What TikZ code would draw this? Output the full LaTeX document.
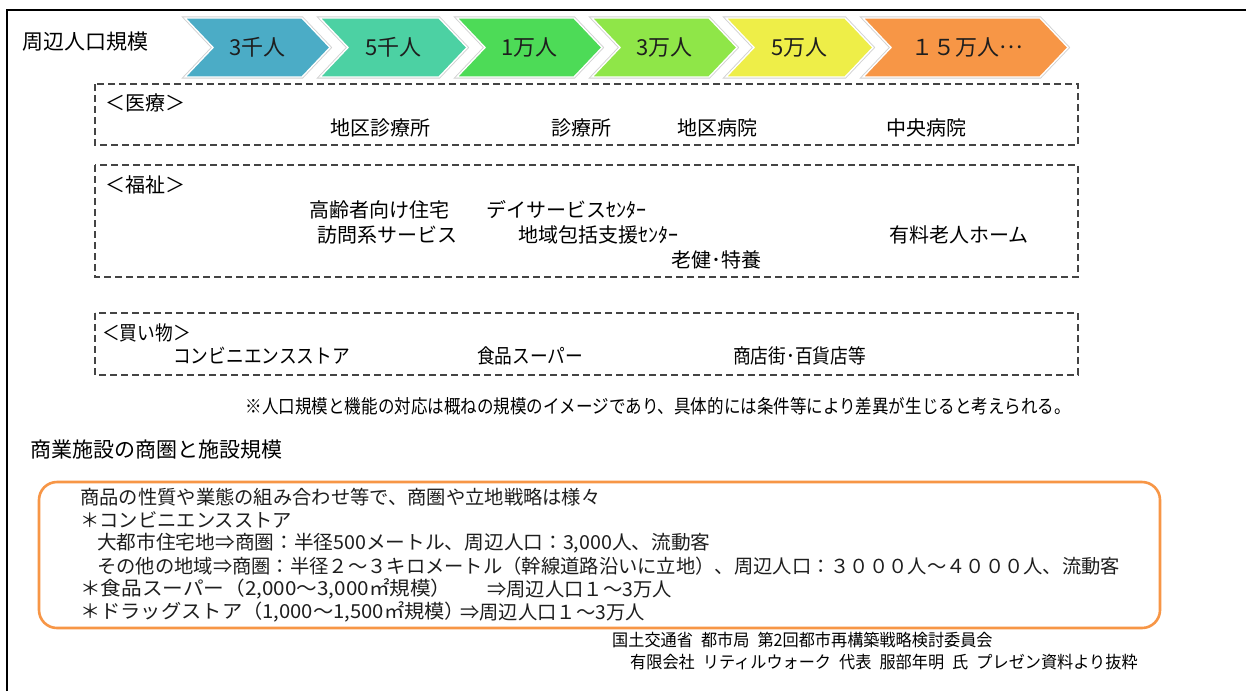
\documentclass[tikz,border=0pt]{standalone}
\usepackage{fontspec}
\setmainfont{Noto Sans CJK JP}
\definecolor{cA}{HTML}{4BACC6}
\definecolor{cB}{HTML}{4CD1A3}
\definecolor{cC}{HTML}{4DDB57}
\definecolor{cD}{HTML}{8FE648}
\definecolor{cE}{HTML}{EEEE48}
\definecolor{cF}{HTML}{F79646}
\definecolor{ink}{HTML}{1E1E1E}
\definecolor{dashc}{HTML}{444444}
\newcommand\cond[2][0.885]{\scalebox{#1}[1]{#2}}
\newcommand\chevshape[6]{%
  \draw[black!18,line width=3.2pt,line join=miter]
    (#2,18) -- ({#3-28},18) -- (#3,47.5) -- ({#3-28},77) -- (#2,77) -- ({#2+28},47.5) -- cycle;
  \draw[fill=#4,draw=white,line width=1.4pt,line join=miter]
    (#2,18) -- ({#3-28},18) -- (#3,47.5) -- ({#3-28},77) -- (#2,77) -- ({#2+28},47.5) -- cycle;
  \node[chevtext] (#1) at ({(#2+#3)/2+#6},47.5) {#5};}
\tikzset{
  chevtext/.style={inner sep=0pt,text=ink,font=\fontsize{22}{24}\selectfont},
  lbl/.style={anchor=west,inner sep=0pt,text=black,font=\fontsize{20}{22}\selectfont},
  boxtext/.style={anchor=west,inner sep=0pt,text=ink,font=\fontsize{19.3}{22}\selectfont},
  small/.style={anchor=west,inner sep=0pt,text=black,font=\fontsize{17}{19}\selectfont},
  dbox/.style={draw=dashc,line width=1.3pt,dash pattern=on 7pt off 4pt},
  obox/.style={draw=cF,line width=2.6pt,rounded corners=18pt},
}
\begin{document}
\begin{tikzpicture}[x=1pt,y=-1pt]
\useasboundingbox (0,0) rectangle (1246,691);
\fill[white] (0,0) rectangle (1246,691);
% frame
\draw[black,line width=2.6pt] (7,691) -- (7,10) -- (1246,10);
% header label
\node[lbl,font=\fontsize{21}{23}\selectfont] (scale) at (22,42) {周辺人口規模};
% chevrons
\chevshape{p1}{185}{330}{cA}{3千人}{0}
\chevshape{p2}{320}{467}{cB}{5千人}{0}
\chevshape{p3}{457}{602}{cC}{1万人}{0}
\chevshape{p4}{592}{737}{cD}{3万人}{0}
\chevshape{p5}{726}{873}{cE}{5万人}{0}
\chevshape{p6}{863}{1068}{cF}{１５万人\raisebox{0.32em}{…}}{2}
% dashed boxes
\draw[dbox] (95,84) rectangle (1078,145);
\draw[dbox] (95,165) rectangle (1078,277);
\draw[dbox] (95,313) rectangle (1078,375);
% medical
\node[lbl] (med) at (105,103) {＜医療＞};
\node[lbl] (m1) at (330,128) {地区診療所};
\node[lbl] (m2) at (551,128) {診療所};
\node[lbl] (m3) at (677,128) {地区病院};
\node[lbl] (m4) at (886,128) {中央病院};
% welfare
\node[lbl] (wel) at (105,185) {＜福祉＞};
\node[lbl] (w1) at (309,210) {高齢者向け住宅};
\node[lbl] (w2) at (486,210) {デイサービスｾﾝﾀｰ};
\node[lbl] (w3) at (317,235) {訪問系サービス};
\node[lbl] (w4) at (518,235) {地域包括支援ｾﾝﾀｰ};
\node[lbl] (w5) at (671,260) {老健･特養};
\node[lbl] (w6) at (889,235) {有料老人ホーム};
% shopping
\node[lbl] (shop) at (102,333) {\cond{＜買い物＞}};
\node[lbl] (s1) at (173,356) {\cond{コンビニエンスストア}};
\node[lbl] (s2) at (477,356) {\cond{食品スーパー}};
\node[lbl] (s3) at (733,356) {\cond{商店街･百貨店等}};
% note
\node[lbl,anchor=east,font=\fontsize{19}{21}\selectfont] (note) at (1071,406)
  {\cond[0.87]{※人口規模と機能の対応は概ねの規模のイメージであり、具体的には条件等により差異が生じると考えられる。}};
% heading
\node[lbl,font=\fontsize{21}{23}\selectfont] (head) at (30,450) {商業施設の商圏と施設規模};
% orange box
\draw[obox] (39,482) rectangle (1160,628);
\node[boxtext] (t1) at (80,497) {商品の性質や業態の組み合わせ等で、商圏や立地戦略は様々};
\node[boxtext] (t2) at (80,520) {＊コンビニエンスストア};
\node[boxtext] (t3) at (97,543) {\scalebox{1.02}[1]{大都市住宅地⇒商圏：半径500メートル、周辺人口：3,000人、流動客}};
\node[boxtext] (t4) at (97,566) {その他の地域⇒商圏：半径２～３キロメートル（幹線道路沿いに立地）、周辺人口：３０００人～４０００人、流動客};
\node[boxtext] (t5) at (80,589) {\scalebox{1.07}[1]{＊食品スーパー（2,000～3,000㎡規模）}};
\node[boxtext] (t5b) at (487,589) {⇒周辺人口１～3万人};
\node[boxtext] (t6) at (80,612) {\scalebox{1.05}[1]{＊ドラッグストア（1,000～1,500㎡規模）}};
\node[boxtext] (t6b) at (460,612) {⇒周辺人口１～3万人};
% credits
\node[small] (c1) at (612,640) {\cond[0.95]{国土交通省\hspace{0.5em}都市局\hspace{0.5em}第2回都市再構築戦略検討委員会}};
\node[small] (c2) at (630,662) {\cond[0.95]{有限会社\hspace{0.5em}リティルウォーク\hspace{0.5em}代表\hspace{0.5em}服部年明\hspace{0.5em}氏\hspace{0.5em}プレゼン資料より抜粋}};
\end{tikzpicture}
\end{document}
